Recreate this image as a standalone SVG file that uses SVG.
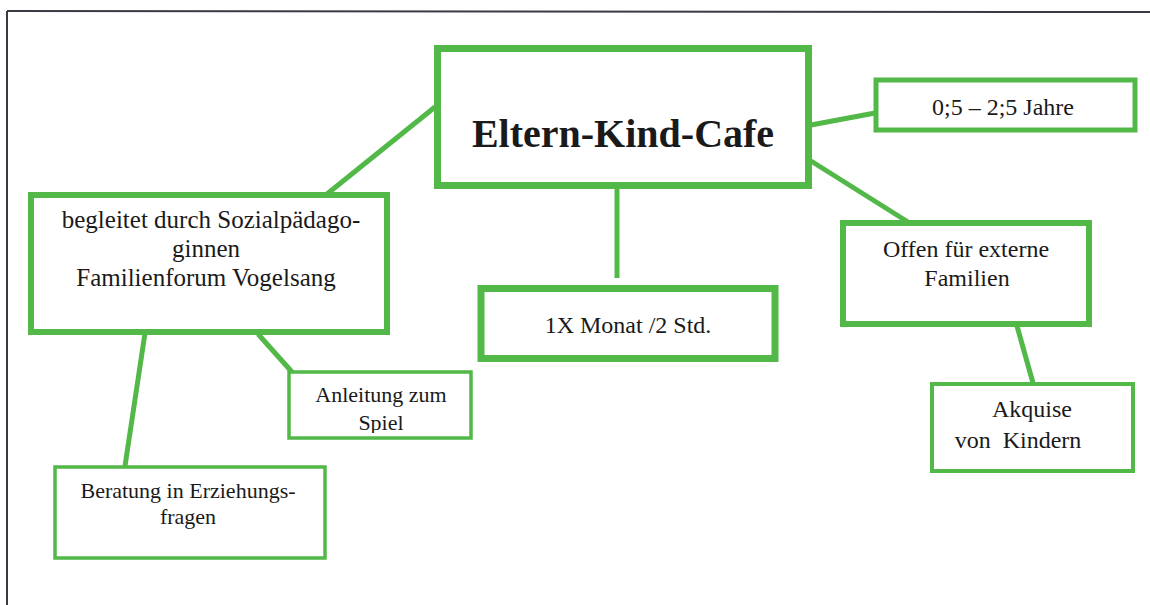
<svg xmlns="http://www.w3.org/2000/svg" width="1150" height="605" viewBox="0 0 1150 605">
<style>
.box{fill:#fff;stroke:#52b848}
.con line{stroke:#52b848;stroke-width:5}
text{font-family:"Liberation Serif","Times New Roman",serif;fill:#1a1a1a;text-anchor:middle}
.t22{font-size:22px}
.t24{font-size:24px}
.t25{font-size:25px}
</style>
<defs>
<clipPath id="clipAnl"><rect x="291" y="374" width="178" height="59"/></clipPath>
</defs>
<rect width="1150" height="605" fill="#fff"/>
<g id="border" fill="none" stroke="#3a3a44" stroke-width="2">
<line x1="7" y1="11" x2="1150" y2="12"/>
<line x1="7" y1="11" x2="7" y2="605"/>
</g>
<g class="con" id="connectors">
<line x1="435" y1="107" x2="327" y2="194"/>
<line x1="617" y1="188" x2="617" y2="278"/>
<line x1="811" y1="125" x2="875" y2="113"/>
<line x1="811" y1="161" x2="908" y2="222"/>
<line x1="145" y1="333" x2="125" y2="466"/>
<line x1="258" y1="334" x2="292" y2="372"/>
<line x1="1017" y1="326" x2="1033" y2="383"/>
</g>
<g id="main">
<rect class="box" x="437.5" y="48.5" width="371" height="137" stroke-width="7"/>
<text x="623" y="147" font-size="40" font-weight="bold">Eltern-Kind-Cafe</text>
</g>
<g id="begleitet">
<rect class="box" x="31" y="195" width="356" height="137" stroke-width="6"/>
<text class="t25" x="211" y="228">begleitet durch Sozialpädago-</text>
<text class="t25" x="206" y="257">ginnen</text>
<text class="t25" x="206" y="286">Familienforum Vogelsang</text>
</g>
<g id="anleitung">
<rect class="box" x="289" y="372" width="182" height="66" stroke-width="3.5"/>
<g clip-path="url(#clipAnl)">
<text class="t22" x="381" y="402">Anleitung zum</text>
<text class="t22" x="381" y="430">Spiel</text>
</g>
</g>
<g id="beratung">
<rect class="box" x="55" y="467" width="270" height="91" stroke-width="3.5"/>
<text class="t22" x="188" y="498">Beratung in Erziehungs-</text>
<text class="t22" x="188" y="524">fragen</text>
</g>
<g id="monat">
<rect class="box" x="481" y="288.5" width="294" height="70" stroke-width="7"/>
<text class="t24" x="628" y="333">1X Monat /2 Std.</text>
</g>
<g id="jahre">
<rect class="box" x="876" y="80" width="259" height="50" stroke-width="5"/>
<text class="t24" x="1003" y="115">0;5 – 2;5 Jahre</text>
</g>
<g id="offen">
<rect class="box" x="843" y="223" width="246" height="101" stroke-width="6"/>
<text class="t24" x="966" y="257">Offen für externe</text>
<text class="t24" x="967" y="286">Familien</text>
</g>
<g id="akquise">
<rect class="box" x="932" y="384" width="201" height="87" stroke-width="4"/>
<text class="t24" x="1032" y="417">Akquise</text>
<text class="t24" x="1018" y="448" xml:space="preserve">von  Kindern</text>
</g>
</svg>
